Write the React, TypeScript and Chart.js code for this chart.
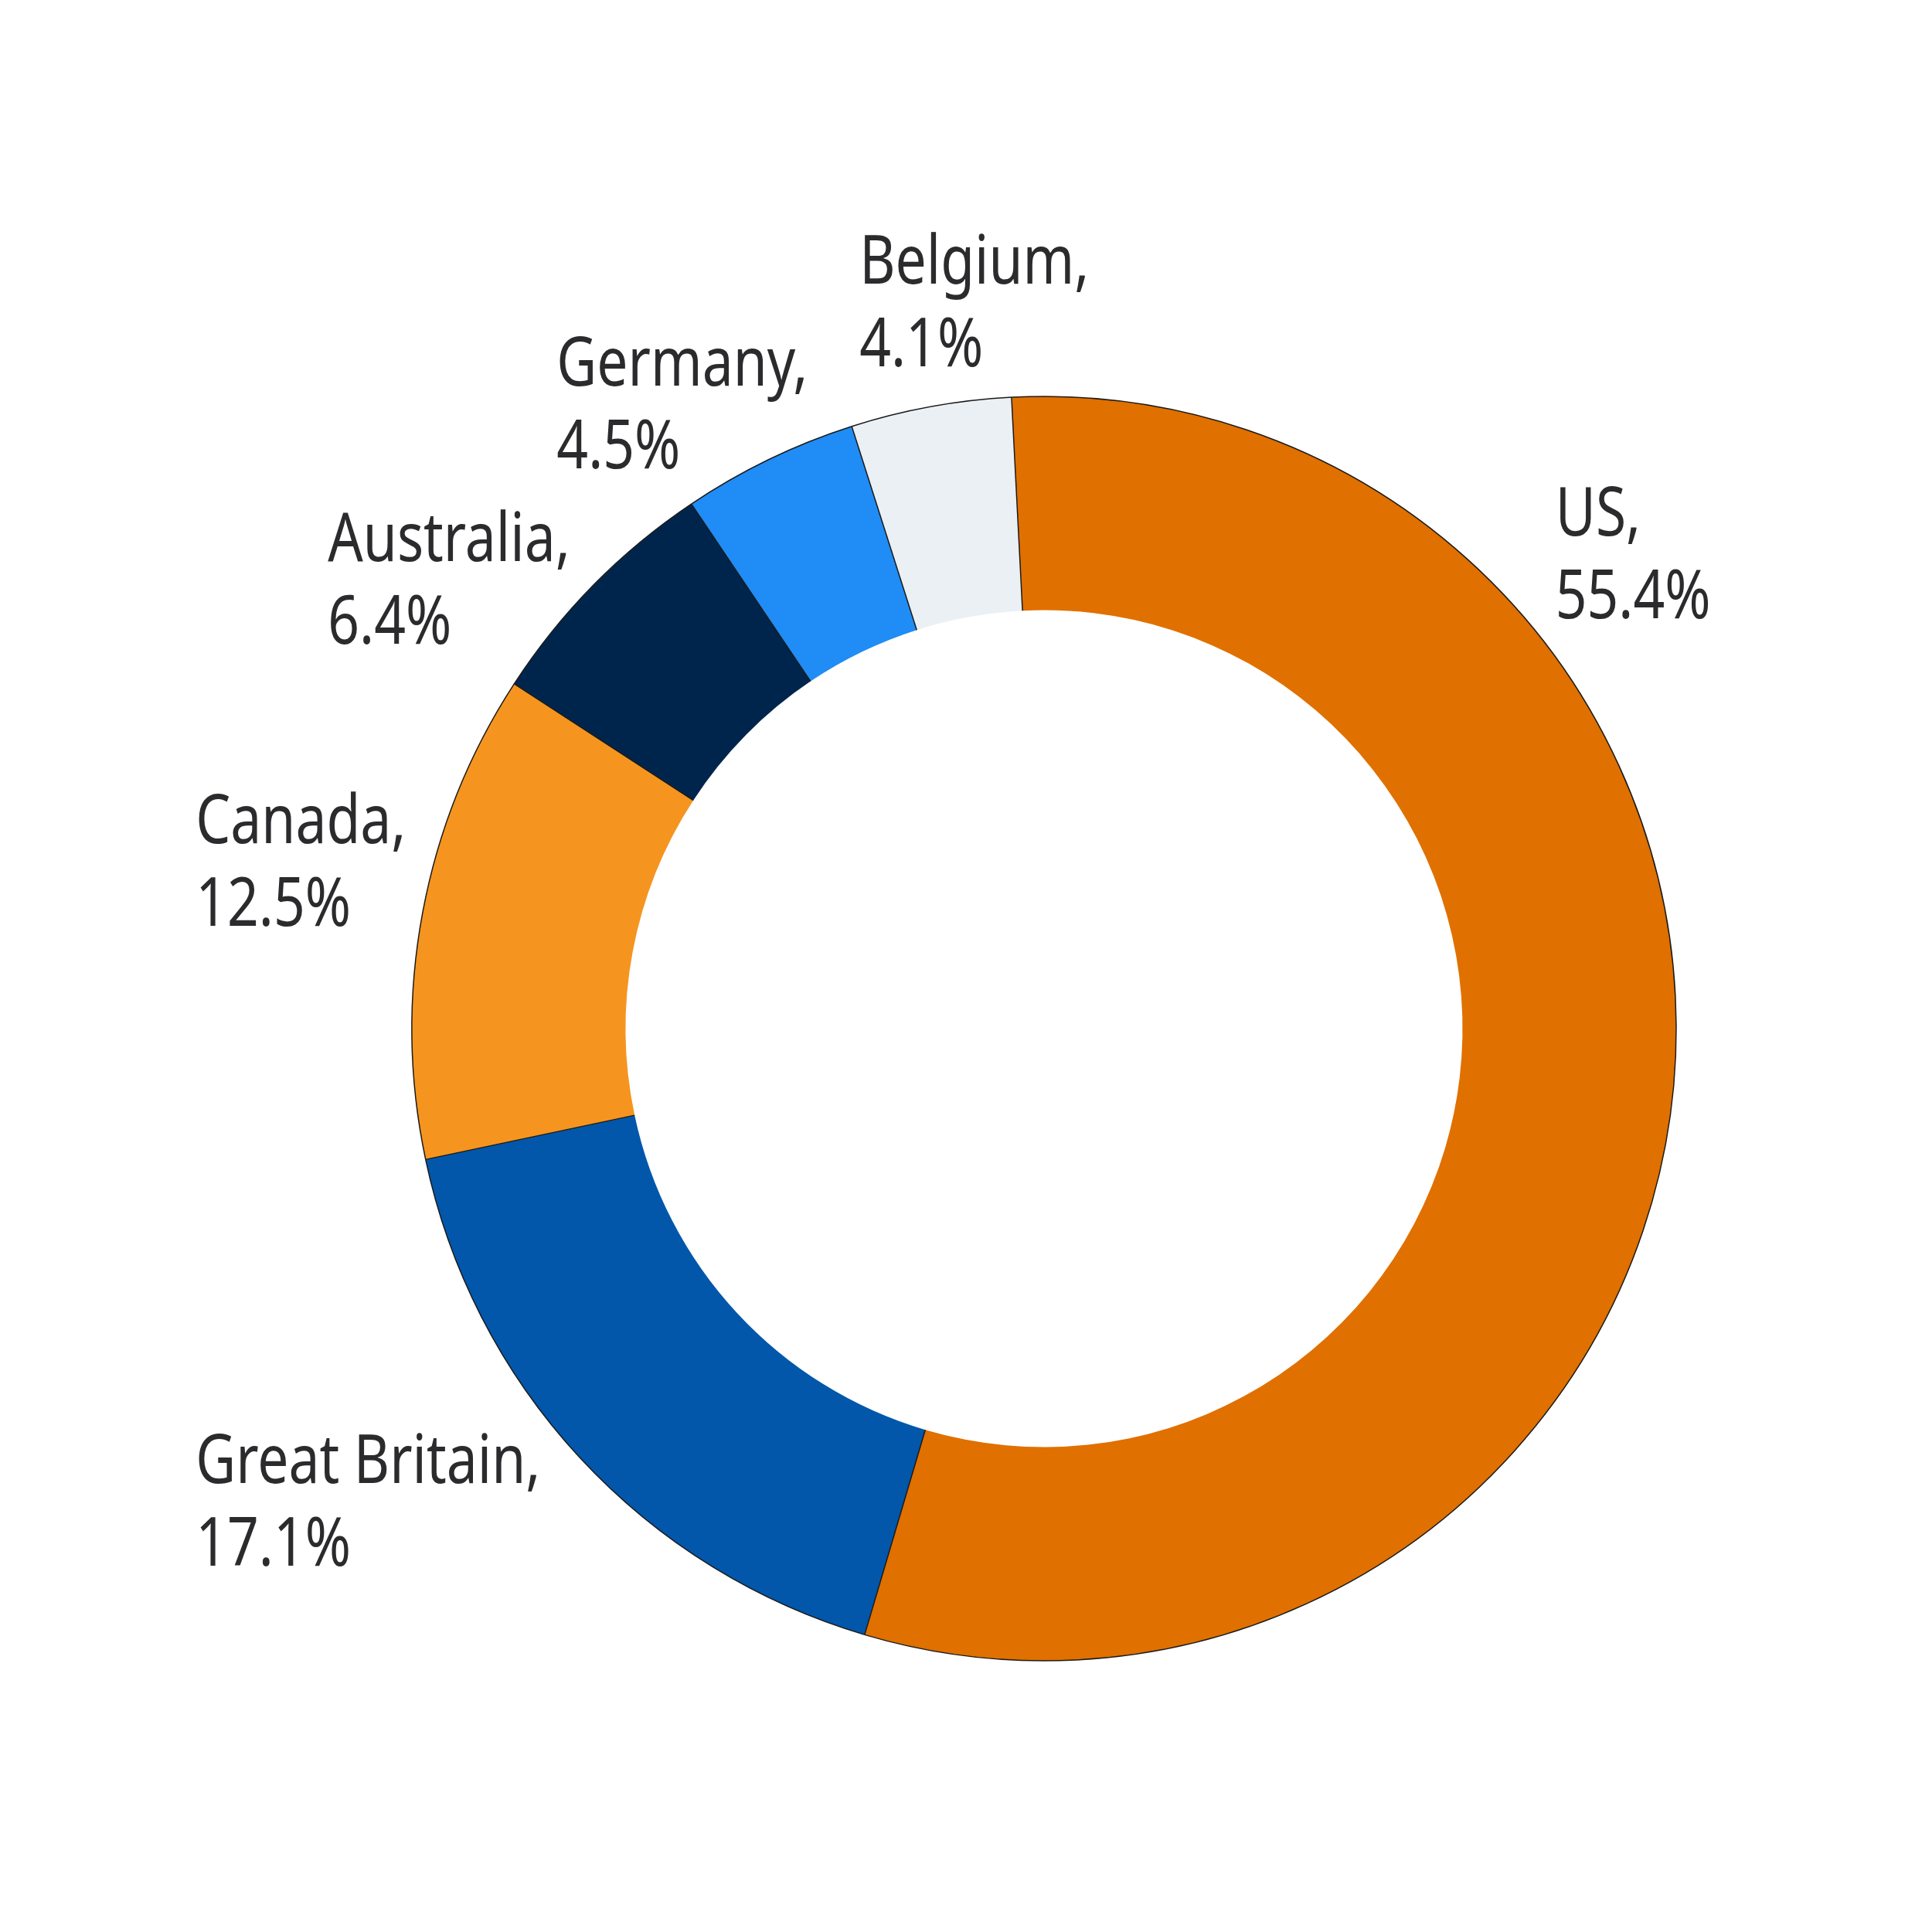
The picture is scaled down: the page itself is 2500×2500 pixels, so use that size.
import React, { useEffect, useRef } from "react";
import { Chart, registerables } from "chart.js";

Chart.register(...registerables);

const countries = ["US", "Great Britain", "Canada", "Australia", "Germany", "Belgium"];
const shares = [55.4, 17.1, 12.5, 6.4, 4.5, 4.1];
const sliceColors = ["#E07000", "#0257AB", "#F5951F", "#00254D", "#208CF5", "#EAF0F3"];
// label anchor (left x, first baseline) relative to chart centre, in units of outer radius
const labelAnchors = [
  [0.809, -0.78],
  [-1.342, 0.719],
  [-1.342, -0.293],
  [-1.133, -0.74],
  [-0.771, -1.017],
  [-0.292, -1.178],
];

const borderPlugin = {
  id: "edgeLines",
  afterDatasetsDraw(chart: any) {
    const meta = chart.getDatasetMeta(0);
    const ctx = chart.ctx;
    ctx.save();
    ctx.strokeStyle = "#1a1a1a";
    ctx.lineWidth = 1.5;
    meta.data.forEach((arc: any) => {
      const { x, y, startAngle, endAngle, innerRadius, outerRadius } = arc.getProps(
        ["x", "y", "startAngle", "endAngle", "innerRadius", "outerRadius"],
        true
      );
      ctx.beginPath();
      ctx.moveTo(x + Math.cos(startAngle) * innerRadius, y + Math.sin(startAngle) * innerRadius);
      ctx.lineTo(x + Math.cos(startAngle) * outerRadius, y + Math.sin(startAngle) * outerRadius);
      ctx.stroke();
      ctx.beginPath();
      ctx.arc(x, y, outerRadius, startAngle, endAngle);
      ctx.stroke();
    });
    ctx.restore();
  },
};

const labelPlugin = {
  id: "outerLabels",
  afterDraw(chart: any) {
    const meta = chart.getDatasetMeta(0);
    const ctx = chart.ctx;
    const first = meta.data[0];
    const cx = first.x;
    const cy = first.y;
    const r = first.outerRadius;
    ctx.save();
    ctx.fillStyle = "#2b2a2d";
    ctx.font = "87px 'Noto Sans'";
    ctx.textAlign = "left";
    ctx.textBaseline = "alphabetic";
    const lineGap = 107;
    countries.forEach((name, i) => {
      const [ax, ay] = labelAnchors[i];
      const lx = cx + ax * r;
      const ly = cy + ay * r;
      const lines = [name + ",", shares[i].toFixed(1) + "%"];
      lines.forEach((t, k) => {
        ctx.save();
        ctx.translate(lx, ly + k * lineGap);
        ctx.scale(0.82, 1);
        ctx.fillText(t, 0, 0);
        ctx.restore();
      });
    });
    ctx.restore();
  },
};

export default function App() {
  const ref = useRef<HTMLCanvasElement>(null);
  useEffect(() => {
    document.body.style.margin = "0";
    const chart = new Chart(ref.current!, {
      type: "doughnut",
      data: {
        labels: countries,
        datasets: [
          {
            data: shares,
            backgroundColor: sliceColors,
            borderWidth: 0,
          },
        ],
      },
      options: {
        responsive: false,
        animation: false,
        rotation: -2.95,
        cutout: "66.2%",
        layout: { padding: { left: 533, top: 513, right: 331, bottom: 351 } },
        plugins: {
          legend: { display: false },
          tooltip: { enabled: false },
        },
      },
      plugins: [borderPlugin, labelPlugin],
    });
    return () => chart.destroy();
  }, []);
  return (
    <div style={{ width: 2500, height: 2500, background: "#fff" }}>
      <canvas ref={ref} width={2500} height={2500} style={{ display: "block" }} />
    </div>
  );
}
